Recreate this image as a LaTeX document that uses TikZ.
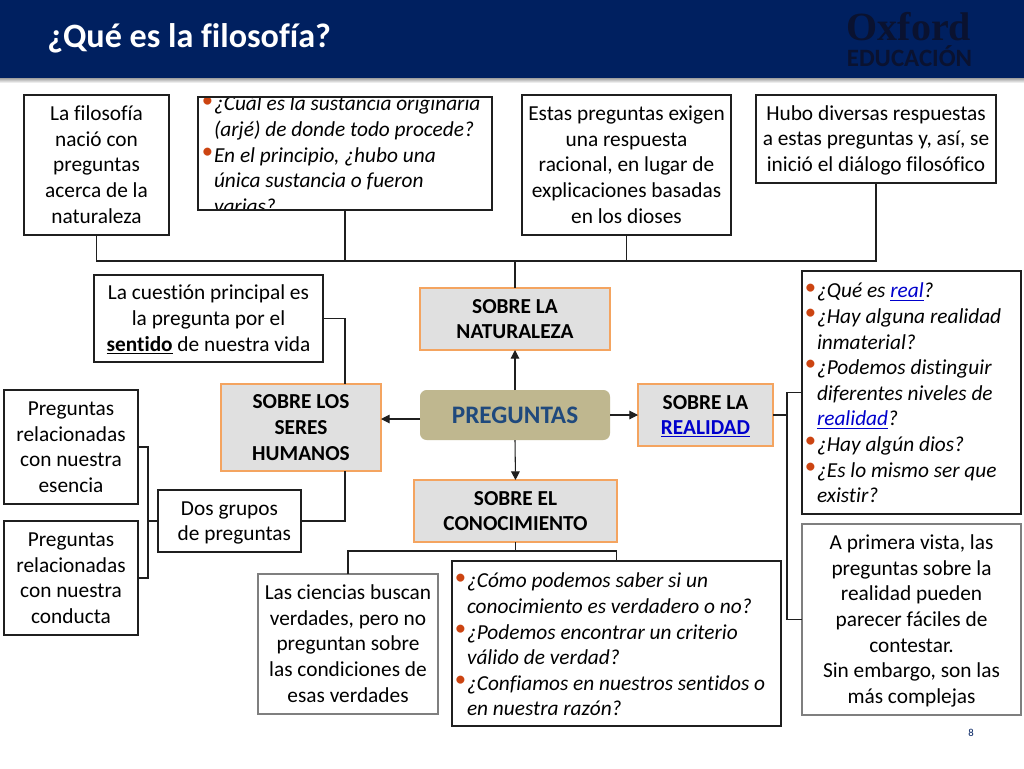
\documentclass[tikz,border=0pt]{standalone}
\usepackage{fontspec}
\setmainfont[Ligatures={NoCommon}]{Carlito}
\newfontfamily\oxf{Liberation Serif}
\usetikzlibrary{arrows.meta}
\definecolor{navy}{HTML}{002060}
\definecolor{logo}{HTML}{0A1230}
\definecolor{edge}{HTML}{1F1F1F}
\definecolor{softedge}{HTML}{7F7F7F}
\definecolor{oran}{HTML}{F4A460}
\definecolor{greyfill}{HTML}{E0E0E0}
\definecolor{khaki}{HTML}{BFB78F}
\definecolor{pblue}{HTML}{1F497D}
\definecolor{linkc}{HTML}{0000CC}
\definecolor{bul}{HTML}{CC4411}
\newcommand{\bl}{\makebox[0pt][r]{\raisebox{2.8pt}{\textcolor{bul}{\fontsize{17}{17}\selectfont\upshape •}}\hspace{0.6pt}}}
\newcommand{\lk}[1]{\textcolor{linkc}{\underline{#1}}}
\newcommand{\fstrut}{\rule[-4.4pt]{0pt}{19.2pt}}
% name, x0, y0, x1, y1, style, text
\newcommand{\bx}[7]{%
  \pgfmathsetmacro{\bxw}{(#4-#2)*0.75}\pgfmathsetmacro{\bxh}{(#5-#3)*0.75}%
  \node[#6,minimum width=\bxw pt,minimum height=\bxh pt] (#1) at ({(#2+#4)/2},{(#3+#5)/2}) {\fstrut#7\fstrut};}
\tikzset{
  x=0.75pt,y=-0.75pt,
  plainbox/.style={draw=edge,line width=1.1pt,fill=white,inner sep=0pt,outer sep=0pt,align=center,
    font=\fontsize{16}{19.25}\selectfont,text=black},
  softbox/.style={plainbox,draw=softedge},
  catbox/.style={plainbox,draw=oran,fill=greyfill,font=\fontsize{16}{19.25}\selectfont\bfseries},
  listtext/.style={inner sep=0pt,outer sep=0pt,anchor=north west,align=left,
    font=\fontsize{16}{19.2}\selectfont\itshape,text=black},
  conn/.style={draw=edge,line width=0.8pt},
  arr/.style={conn,-{Triangle[length=6.5pt,width=6.5pt]}},
}
\begin{document}
\begin{tikzpicture}
\useasboundingbox (0,0) rectangle (1024,768);
\fill[white] (0,0) rectangle (1024,768);
% header
\shade[top color=black!45,bottom color=white] (0,77) rectangle (1024,83);
\fill[navy] (0,0) rectangle (1024,78);
\node[anchor=west,inner sep=0pt,text=white,font=\fontsize{25.6}{28}\selectfont\bfseries] (title) at (47,38.5) {¿Qué es la filosofía?};
\node[inner sep=0pt,text=logo,font=\oxf\fontsize{30}{30}\selectfont\bfseries] (oxford) at (909,27) {Oxford};
\node[inner sep=0pt,text=logo,font=\fontsize{18.7}{20}\selectfont\bfseries] (educ) at (909.5,56) {EDUCACIÓN};
\node[inner sep=0pt,text=navy,font=\fontsize{8}{9}\selectfont] (pnum) at (971,733) {8};
% top row
\bx{A}{24}{95}{169}{235}{plainbox}{La filosofía\\nació con\\preguntas\\acerca de la\\naturaleza}
\bx{B}{198}{97}{492}{210}{plainbox}{}
\begin{scope}
\clip (198,97) rectangle (492,210);
\node[listtext] (Bt) at (214,93) {\strut\bl¿Cuál es la sustancia originaria\\(arjé) de donde todo procede?\\\bl En el principio, ¿hubo una\\única sustancia o fueron\\varias?};
\end{scope}
\draw[draw=edge,line width=1.1pt] (B.south west) rectangle (B.north east);
\bx{C}{522}{95}{731}{235}{plainbox}{Estas preguntas exigen\\una respuesta\\racional, en lugar de\\explicaciones basadas\\en los dioses}
\bx{D}{756}{95}{996}{183}{plainbox}{Hubo diversas respuestas\\a estas preguntas y, así, se\\inició el diálogo filosófico}
% centre
\bx{N}{420}{288}{610}{350}{catbox}{SOBRE LA\\NATURALEZA}
\bx{Q}{94}{275}{323}{362}{plainbox}{La cuestión principal es\\la pregunta por el\\\textbf{\underline{sentido}} de nuestra vida}
\bx{S}{221}{384}{381}{471}{catbox}{SOBRE LOS\\SERES\\HUMANOS}
\node[draw=none,fill=khaki,rounded corners=5pt,inner sep=0pt,outer sep=0pt,text=pblue,font=\fontsize{18.9}{20}\selectfont\bfseries,minimum width=142.5pt,minimum height=37.5pt] (P) at (515,415) {PREGUNTAS};
\bx{R}{638}{384}{773}{446}{catbox}{SOBRE LA\\\lk{REALIDAD}}
\bx{K}{414}{480}{617}{542}{catbox}{SOBRE EL\\CONOCIMIENTO}
% left
\bx{L1}{4}{390}{138}{504}{plainbox}{Preguntas\\relacionadas\\con nuestra\\esencia}
\bx{L2}{4}{521}{138}{635}{plainbox}{Preguntas\\relacionadas\\con nuestra\\conducta}
\bx{G}{158}{490}{301}{552}{plainbox}{Dos grupos\\\ \ de preguntas}
% bottom
\bx{T}{258}{574}{438}{714}{softbox}{Las ciencias buscan\\verdades, pero no\\preguntan sobre\\las condiciones de\\esas verdades}
\bx{U}{452}{561}{781}{726}{plainbox}{}
\node[listtext] (Ut) at (467,570) {\strut\bl¿Cómo podemos saber si un\\conocimiento es verdadero o no?\\\bl¿Podemos encontrar un criterio\\válido de verdad?\\\bl¿Confiamos en nuestros sentidos o\\en nuestra razón?};
% right
\bx{X}{802}{271}{1021}{514}{plainbox}{}
\node[listtext] (Xt) at (817,280) {\strut\bl¿Qué es \lk{real}?\\\bl¿Hay alguna realidad\\inmaterial?\\\bl¿Podemos distinguir\\diferentes niveles de\\\lk{realidad}?\\\bl¿Hay algún dios?\\\bl¿Es lo mismo ser que\\existir?};
\bx{Y}{802}{524}{1021}{715}{softbox}{A primera vista, las\\preguntas sobre la\\realidad pueden\\parecer fáciles de\\contestar.\\Sin embargo, son las\\más complejas}
% helper coordinates
\coordinate (trunk) at (515,261);
\coordinate (sA) at (345,384);
\coordinate (sB) at (345,471);
\coordinate (br) at (148,521);
\coordinate (kj) at (515.5,551);
\coordinate (rb) at (787,415);
\coordinate (pl) at (420,419);
% connectors
\draw[conn] (A.south) |- (trunk);
\draw[conn] (B.south) |- (trunk);
\draw[conn] (C.south) |- (trunk);
\draw[conn] (D.south) |- (trunk);
\draw[conn] (trunk) -- (N.north);
\draw[conn] (Q.east) -| (sA);
\draw[conn] (sB) |- (G.east);
\draw[conn] (G.west) -- (br);
\draw[conn] (L1.east) -| (br) |- (L2.east);
\draw[conn] (K.south) -- (kj);
\draw[conn] (T.north) |- (kj);
\draw[conn] (U.north) |- (kj);
\draw[conn] (R.east) -- (rb);
\draw[conn] (X.west) -| (rb) |- (Y.west);
\draw[arr] (P.north) -- (N.south);
\draw[arr] (P.south) -- (K.north);
\draw[arr] (P.east) -- (R.west);
\draw[arr] (pl) -- (S.east |- pl);
\end{tikzpicture}
\end{document}
